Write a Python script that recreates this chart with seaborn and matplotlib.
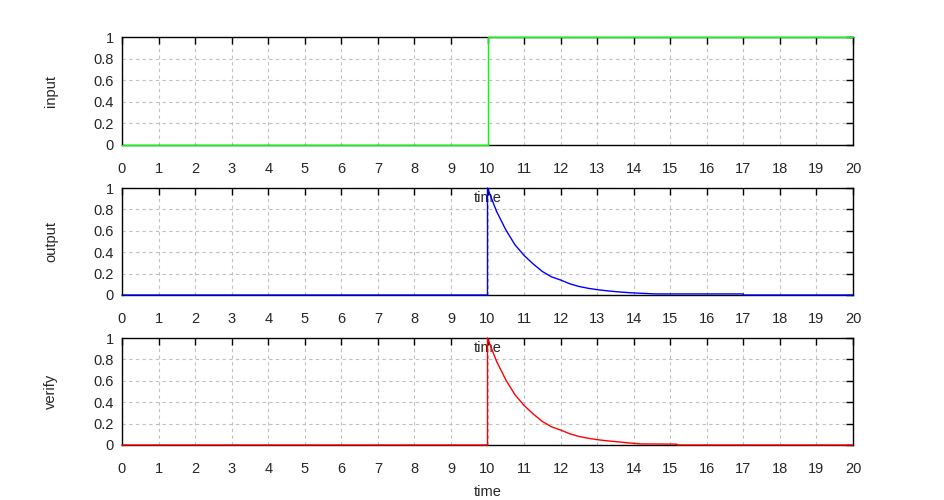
import matplotlib
matplotlib.use("Agg")
import matplotlib.pyplot as plt
import seaborn as sns
import pandas as pd

# ---------------------------------------------------------
# DATA
# ---------------------------------------------------------
input_time = [0, 10, 10, 20]
input_value = [0, 0, 1, 1]

output_time = [0, 10, 10, 10.25, 10.5, 10.75, 11, 11.25, 11.5, 11.75, 12,
               12.25, 12.5, 12.75, 13, 13.25, 13.55, 13.95, 14.6, 17, 17, 20]
output_value = [0, 0, 1.0, 0.78, 0.61, 0.47, 0.37, 0.29, 0.22, 0.17, 0.14,
                0.105, 0.08, 0.063, 0.05, 0.04, 0.03, 0.02, 0.01, 0.01, 0, 0]

verify_time = [0, 10, 10, 10.25, 10.5, 10.75, 11, 11.25, 11.5, 11.75, 12,
               12.25, 12.5, 12.75, 13, 13.25, 13.55, 13.85, 14.2, 15.18, 15.18, 20]
verify_value = [0, 0, 1.0, 0.78, 0.61, 0.47, 0.37, 0.29, 0.22, 0.17, 0.14,
                0.105, 0.08, 0.063, 0.05, 0.04, 0.03, 0.02, 0.01, 0.008, 0, 0]

x_ticks = list(range(0, 21))
y_ticks = [0, 0.2, 0.4, 0.6, 0.8, 1]
y_tick_labels = ["0", "0.2", "0.4", "0.6", "0.8", "1"]

panels = [
    ("input", input_time, input_value, "#00ff00"),
    ("output", output_time, output_value, "#0000ff"),
    ("verify", verify_time, verify_value, "#ff0000"),
]

# ---------------------------------------------------------
# STYLE
# ---------------------------------------------------------
sns.set_style("white")
plt.rcParams["font.family"] = ["Liberation Sans", "DejaVu Sans"]
plt.rcParams["font.size"] = 10.5

W, H = 944, 500
fig = plt.figure(figsize=(W / 100, H / 100), dpi=100)
fig.patch.set_facecolor("white")

left_px, right_px = 122, 853
panel_px = [(37, 145), (188, 295), (338, 445)]
xlabel_offset = [46, 46, 40]  # px from bottom spine to top of "time"

for (name, t, v, color), (top_px, bot_px), off in zip(panels, panel_px, xlabel_offset):
    ax = fig.add_axes([left_px / W, 1 - bot_px / H,
                       (right_px - left_px) / W, (bot_px - top_px) / H])
    # transparent background so the "time" label of the panel above shows through
    ax.set_facecolor("none")
    df = pd.DataFrame({"time": t, name: v})
    sns.lineplot(data=df, x="time", y=name, ax=ax, color=color,
                 sort=False, estimator=None, linewidth=1.0)
    for ln in ax.lines:
        ln.set_clip_on(False)
        ln.set_zorder(3)

    ax.set_xlim(0, 20)
    ax.set_ylim(0, 1)
    ax.set_xticks(x_ticks)
    ax.set_yticks(y_ticks)
    ax.set_yticklabels(y_tick_labels)
    ax.grid(True, color="#c0c0c0", linestyle=(0, (3, 3)), linewidth=0.8)
    ax.tick_params(axis="both", direction="in", length=5, width=1,
                   color="black", top=True, right=True, labelsize=10.5)
    ax.tick_params(axis="x", pad=12)
    ax.tick_params(axis="y", pad=6)
    for sp in ax.spines.values():
        sp.set_visible(True)
        sp.set_color("black")
        sp.set_linewidth(1.0)

    ax.set_xlabel("time", fontsize=10.5)
    ax.set_ylabel(name, fontsize=10.5)
    h = bot_px - top_px
    ax.xaxis.set_label_coords(0.5, -off / h)
    ax.xaxis.label.set_zorder(5)
    ax.yaxis.set_label_coords(-64 / (right_px - left_px), 0.5)

fig.savefig("out.png", dpi=100)
